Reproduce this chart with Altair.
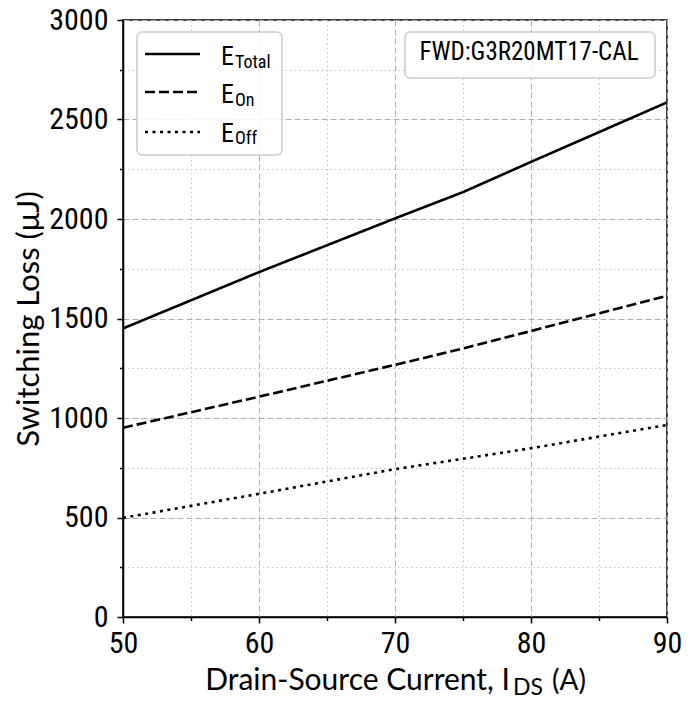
import altair as alt
import pandas as pd

# ---- data ----
current = [50, 60, 70, 75, 80, 90]
e_total = [1450, 1733, 2003, 2135, 2287, 2586]
e_on = [951, 1107, 1267, 1349, 1437, 1614]
e_off = [498, 619, 743, 795, 848, 965]
series_names = ["E_Total", "E_On", "E_Off"]
legend_subs = ["Total", "On", "Off"]
x_ticks = [50, 55, 60, 65, 70, 75, 80, 85, 90]
y_ticks = list(range(0, 3001, 250))
annotation = "FWD:G3R20MT17-CAL"

rows = []
for name, vals in zip(series_names, [e_total, e_on, e_off]):
    for xv, yv in zip(current, vals):
        rows.append({"series": name, "x": xv, "y": yv})
df = pd.DataFrame(rows)

W, H = 544, 597
COND_FONT = "Roboto Condensed, Liberation Sans Narrow, Roboto"
TITLE_FONT = "Lato"

major_x = "datum.value % 10 === 0"
major_y = "datum.value % 500 === 0"


def axis_common(test):
    return dict(
        grid=True,
        gridDash={"condition": {"test": test, "value": [6, 3]}, "value": [1.5, 3]},
        gridColor={"condition": {"test": test, "value": "#b0b0b0"}, "value": "#c4c4c4"},
        gridWidth=1,
        tickSize={"condition": {"test": test, "value": 6}, "value": 3.5},
        tickColor="black",
        tickWidth=1.5,
        domainColor="black",
        domainWidth=1.5,
        labelFont=COND_FONT,
        labelFontSize=30,
        labelColor="black",
        labelOverlap=False,
        labelFlush=False,
        format="d",
        titleFont=TITLE_FONT,
        titleFontSize=31,
        titleFontWeight="normal",
        titleColor="black",
    )


x_axis = alt.Axis(
    values=x_ticks,
    labelExpr="datum.value % 10 === 0 ? datum.label : ''",
    labelPadding=5,
    title=None,
    **axis_common(major_x),
)
y_axis = alt.Axis(
    values=y_ticks,
    labelExpr="datum.value % 500 === 0 ? datum.label : ''",
    labelPadding=9,
    title="Switching Loss (μJ)",
    titlePadding=3,
    **axis_common(major_y),
)

dash_scale = alt.Scale(domain=series_names, range=[[1, 0], [10, 4], [3, 4.5]])

lines = alt.Chart(df).mark_line(color="black", strokeWidth=2.6, strokeCap="butt").encode(
    x=alt.X("x:Q", scale=alt.Scale(domain=[50, 90], nice=False, zero=False), axis=x_axis),
    y=alt.Y("y:Q", scale=alt.Scale(domain=[0, 3000], nice=False), axis=y_axis),
    strokeDash=alt.StrokeDash("series:N", scale=dash_scale, legend=None),
    detail="series:N",
)

# ---- legend box ----
leg_box = alt.Chart(pd.DataFrame({"a": [0]})).mark_rect(
    fill="white", fillOpacity=0.85, stroke="#cccccc", strokeWidth=1.5, cornerRadius=5
).encode(x=alt.value(14), x2=alt.value(159), y=alt.value(12), y2=alt.value(135))

leg_df = pd.DataFrame({
    "series": series_names,
    "sub": legend_subs,
    "ly": [34, 72, 112],
    "ty": [45, 83, 122],
    "sy": [48, 86, 124],
})
leg_lines = alt.Chart(leg_df).mark_rule(color="black", strokeWidth=2.6, strokeCap="butt").encode(
    x=alt.value(22), x2=alt.value(77),
    y=alt.Y("ly:Q", scale=None),
    strokeDash=alt.StrokeDash("series:N", scale=dash_scale, legend=None),
)
leg_e = alt.Chart(leg_df).mark_text(
    text="E", font=COND_FONT, fontSize=26, align="left", baseline="alphabetic", color="black"
).encode(x=alt.value(98), y=alt.Y("ty:Q", scale=None))
leg_sub = alt.Chart(leg_df).mark_text(
    font=COND_FONT, fontSize=18, align="left", baseline="alphabetic", color="black"
).encode(x=alt.value(112), y=alt.Y("sy:Q", scale=None), text="sub:N")

# ---- annotation box ----
ann_box = alt.Chart(pd.DataFrame({"a": [0]})).mark_rect(
    fill="white", fillOpacity=0.85, stroke="#cccccc", strokeWidth=1.5, cornerRadius=5
).encode(x=alt.value(282), x2=alt.value(532), y=alt.value(12), y2=alt.value(58))
ann_text = alt.Chart(pd.DataFrame({"t": [annotation]})).mark_text(
    font=COND_FONT, fontSize=25, align="center", baseline="alphabetic", color="black"
).encode(x=alt.value(406), y=alt.value(40), text="t:N")

# ---- x axis title with subscript ----
xt_main = alt.Chart(pd.DataFrame({"t": ["Drain-Source Current, I"]})).mark_text(
    font=TITLE_FONT, fontSize=30, align="right", baseline="alphabetic", color="black"
).encode(x=alt.value(387), y=alt.value(670), text="t:N")
xt_sub = alt.Chart(pd.DataFrame({"t": ["DS"]})).mark_text(
    font=TITLE_FONT, fontSize=23, align="left", baseline="alphabetic", color="black"
).encode(x=alt.value(390), y=alt.value(675), text="t:N")
xt_end = alt.Chart(pd.DataFrame({"t": ["(A)"]})).mark_text(
    font=TITLE_FONT, fontSize=28, align="left", baseline="alphabetic", color="black"
).encode(x=alt.value(429), y=alt.value(670), text="t:N")

chart = alt.layer(
    lines, leg_box, leg_lines, leg_e, leg_sub, ann_box, ann_text, xt_main, xt_sub, xt_end
).properties(
    width=W, height=H,
    autosize=alt.AutoSizeParams(type="none"),
    padding={"left": 123, "top": 20, "right": 31, "bottom": 85},
    background="white",
).configure_view(stroke="black", strokeWidth=1.5)

chart.save("out.html", embed_options={"renderer": "svg", "actions": False})
